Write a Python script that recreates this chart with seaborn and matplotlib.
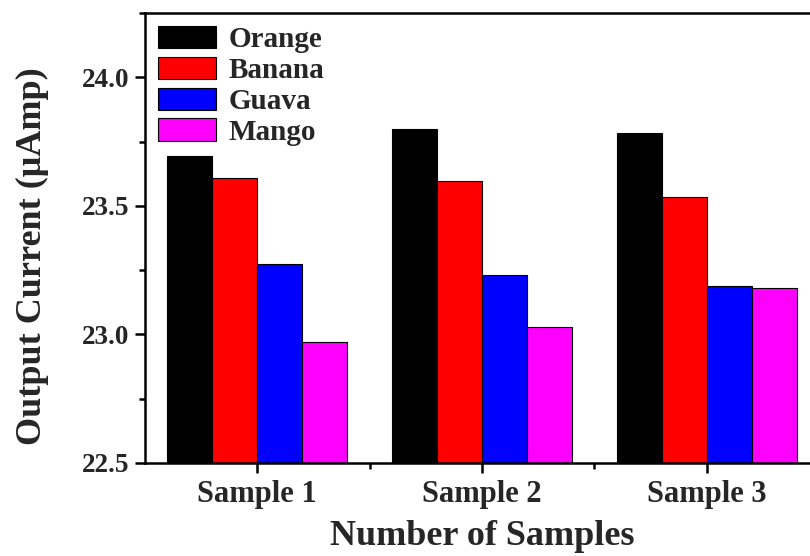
import matplotlib
matplotlib.use("Agg")
import matplotlib.pyplot as plt
from matplotlib.ticker import MultipleLocator
import seaborn as sns
import pandas as pd

samples = ["Sample 1", "Sample 2", "Sample 3"]
fruits = ["Orange", "Banana", "Guava", "Mango"]
orange = [23.695, 23.80, 23.785]
banana = [23.61, 23.598, 23.535]
guava = [23.275, 23.232, 23.19]
mango = [22.972, 23.03, 23.182]
colors = ["#000000", "#ff0000", "#0000ff", "#ff00ff"]

rows = []
for fruit, vals in zip(fruits, [orange, banana, guava, mango]):
    for s, v in zip(samples, vals):
        rows.append({"Sample": s, "Fruit": fruit, "Current": v})
df = pd.DataFrame(rows)

sns.set_theme(style="ticks")
plt.rcParams["font.family"] = ["Liberation Serif", "DejaVu Serif"]
plt.rcParams["font.weight"] = "bold"

fig = plt.figure(figsize=(8.1, 5.56), dpi=100)
ax = fig.add_axes([145 / 810, 93 / 556, 674 / 810, 450 / 556])

sns.barplot(data=df, x="Sample", y="Current", hue="Fruit", order=samples,
            hue_order=fruits, palette=colors, edgecolor="black", linewidth=0.8,
            width=0.8, ax=ax, errorbar=None, saturation=1)

ax.set_ylim(22.5, 24.25)
ax.set_xlim(-0.5, 2.5)
ax.yaxis.set_major_locator(MultipleLocator(0.5))
ax.yaxis.set_minor_locator(MultipleLocator(0.25))
ax.set_xticks([0.5, 1.5], minor=True)
ax.yaxis.set_major_formatter(matplotlib.ticker.FormatStrFormatter("%.1f"))

for side in ["left", "bottom", "top", "right"]:
    ax.spines[side].set_visible(True)
    ax.spines[side].set_linewidth(1.8)
    ax.spines[side].set_color("black")

ax.tick_params(axis="both", which="major", direction="out", length=7, width=1.8,
               color="black")
ax.tick_params(axis="both", which="minor", direction="out", length=4, width=1.8,
               color="black")
ax.tick_params(axis="y", labelsize=19.5, pad=4)
ax.tick_params(axis="x", labelsize=22, pad=5)
for lab in ax.get_xticklabels() + ax.get_yticklabels():
    lab.set_fontweight("bold")

ax.set_xlabel("Number of Samples", fontsize=26, fontweight="bold", labelpad=8)
ax.set_ylabel("Output Current (\u03bcAmp)", fontsize=26, fontweight="bold")
ax.yaxis.set_label_coords(-0.142, 0.46)

leg = ax.legend(loc="upper left", bbox_to_anchor=(0, 1), borderaxespad=0.15,
                frameon=False, prop={"size": 21, "weight": "bold"},
                handlelength=2.0, handleheight=0.8, labelspacing=0.12,
                handletextpad=0.4, borderpad=0.3)

fig.savefig("out.png", dpi=100)
